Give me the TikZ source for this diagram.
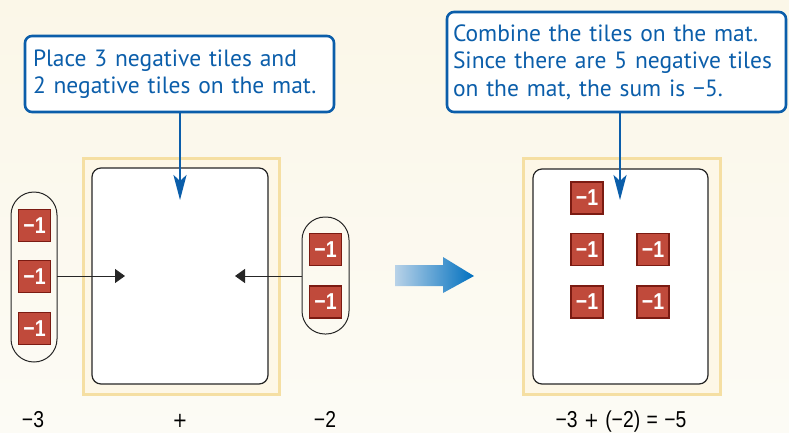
\documentclass[tikz,border=0pt]{standalone}
\usepackage{fontspec}
\setmainfont{PT Sans}
\newfontfamily\labelfont{Liberation Sans}
\newfontfamily\symfont{DejaVu Sans}
\usetikzlibrary{arrows.meta,shapes.misc}
\definecolor{bgtop}{HTML}{FBF7E8}
\definecolor{bgbot}{HTML}{FCFBF5}
\definecolor{calloutblue}{HTML}{0B5EAA}
\definecolor{tilered}{HTML}{C04A3B}
\definecolor{tileedge}{HTML}{7B1B12}
\definecolor{framegold}{HTML}{F5DFA3}
\definecolor{framefill}{HTML}{FDF7E7}
\definecolor{arrowlight}{HTML}{B8D2E8}
\definecolor{arrowdark}{HTML}{0070BF}
\tikzset{
  callout/.style={draw=calloutblue, line width=2.6pt, rounded corners=7pt, fill=white,
    text=calloutblue, font=\fontsize{23.5}{27.5}\selectfont, align=left, inner sep=0pt},
  pointer/.style={draw=calloutblue, line width=2.6pt,
    -{Stealth[length=25pt,width=13pt,inset=6pt]}},
  tile/.style={draw=tileedge, line width=1.2pt, fill=tilered, minimum size=32pt,
    inner sep=0pt, text=white, font=\labelfont\bfseries\fontsize{23}{23}\selectfont},
  matframe/.style={draw=framegold, line width=3pt, fill=framefill},
  matinner/.style={draw=black!85, line width=1.2pt, fill=white, rounded corners=9pt},
  capsule/.style={draw=black!85, line width=1pt, rounded corners=23pt},
  push/.style={draw=black!85, line width=1pt, -{Triangle[length=10pt,width=14pt]}},
  sumlabel/.style={font=\labelfont\fontsize{23}{23}\selectfont, inner sep=0pt, anchor=base}
}
\newcommand{\mn}{\char"2212\relax}
\newcommand{\pl}{{\symfont\fontsize{21}{21}\selectfont +}}
\newcommand{\negone}{\scalebox{0.85}[1]{\mn1}}
\newcommand{\cond}[1]{\scalebox{0.84}[1]{#1}}
\begin{document}
\begin{tikzpicture}[x=1pt,y=-1pt]
  \useasboundingbox (0,0) rectangle (789,432);
  \shade[top color=bgtop, bottom color=bgbot] (0,0) rectangle (789,432);

  % left mat
  \draw[matframe] (83,158) rectangle (279,394);
  \draw[matinner] (92,168) rectangle (268,384);

  % right mat
  \draw[matframe] (523,158) rectangle (720,394);
  \draw[matinner] (533,169) rectangle (708,384);

  % group of three negative tiles
  \draw[capsule] (11,192) rectangle (57,362);
  \node[tile] (a1) at (34.5,225.5) {\negone};
  \node[tile] (a2) at (34.5,276.5) {\negone};
  \node[tile] (a3) at (34.5,328.5) {\negone};

  % group of two negative tiles
  \draw[capsule] (302,217) rectangle (349,334);
  \node[tile] (b1) at (325.5,249.5) {\negone};
  \node[tile] (b2) at (325.5,302) {\negone};

  \coordinate (grpAedge) at (57,276);
  \coordinate (grpBedge) at (302,276);
  \coordinate (tipA) at (125,276);
  \coordinate (tipB) at (235,276);
  \draw[push] (grpAedge) -- (tipA);
  \draw[push] (grpBedge) -- (tipB);

  % combined tiles on the mat
  \node[tile] (c1) at (587,198) {\negone};
  \node[tile] (c2) at (587,249.5) {\negone};
  \node[tile] (c3) at (653,249.5) {\negone};
  \node[tile] (c4) at (587,302) {\negone};
  \node[tile] (c5) at (653,302) {\negone};

  % big shaded arrow between the mats
  \shade[left color=arrowlight, right color=arrowdark, shading angle=90]
    (395,265) -- (443,265) -- (443,257) -- (474,276) -- (443,293) -- (443,286) -- (395,286) -- cycle;

  % callouts
  \node[callout, minimum width=309pt, minimum height=76pt, text width=293pt] (boxL) at (179.5,74)
    {Place 3 negative tiles and\\2 negative tiles on the mat.};
  \node[callout, minimum width=339pt, minimum height=100pt, text width=327pt] (boxR) at (616.5,62)
    {Combine the tiles on the mat.\\Since there are 5 negative tiles\\on the mat, the sum is \mn5.};
  \coordinate (pinL) at (180,200);
  \coordinate (pinR) at (620,200);
  \draw[pointer] (boxL.south -| pinL) -- (pinL);
  \draw[pointer] (boxR.south -| pinR) -- (pinR);

  % bottom number sentence
  \node[sumlabel] (lA) at (33,427) {\cond{\mn3}};
  \node[sumlabel] (lP) at (180,427) {\cond{\pl}};
  \node[sumlabel] (lB) at (325,427) {\cond{\mn2}};
  \node[sumlabel] (lS) at (621,427) {\cond{\mn3\,\,\pl\,\,(\mn2)\,\,=\,\,\mn5}};
\end{tikzpicture}
\end{document}
